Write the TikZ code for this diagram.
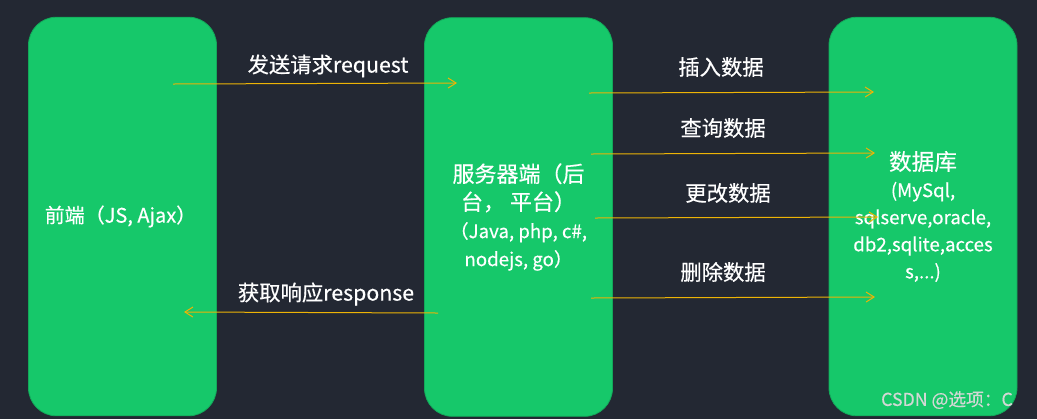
\documentclass[tikz,border=0pt]{standalone}
\usepackage{fontspec}
\setmainfont{Noto Sans CJK SC}[FakeBold=0.4]
\usetikzlibrary{arrows.meta}
\definecolor{bg}{HTML}{232833}
\definecolor{boxgreen}{HTML}{16C86A}
\definecolor{boxedge}{HTML}{13A95A}
\definecolor{arrowgold}{HTML}{EDB406}
\definecolor{wmgrey}{HTML}{D2D8D5}
\begin{document}
\begin{tikzpicture}[x=0.75pt,y=-0.75pt,
    blk/.style={draw=boxedge,fill=boxgreen,line width=0.6pt,rounded corners=21pt,
        minimum width=141pt,minimum height=299pt,text=white,align=center,
        font=\fontsize{16.5}{21}\selectfont},
    lbl/.style={text=white,font=\fontsize{16}{18}\selectfont,inner sep=0pt},
    flow/.style={arrowgold,line width=0.75pt,-{Straight Barb[length=6pt,width=7.5pt]}}]
    \fill[bg](0,0)rectangle(1037,419);
    \node[blk,font=\fontsize{15}{21}\selectfont](fe)at(122.5,216.5){前端（JS, Ajax）\hspace{3pt}};
    \node[blk](be)at(518.5,217){服务器端（后\\台，\ 平台）\\
        \fontsize{14}{21}\selectfont（Java, php, c\#,\\
        \fontsize{14}{21}\selectfont nodejs, go）};
    \node[blk,font=\fontsize{14}{20.3}\selectfont](db)at(923,216.5){\fontsize{17}{20.3}\selectfont 数据库\\
        (MySql,\\sqlserve,oracle,\\db2,sqlite,acces\\s,...)};
    \coordinate(rqa)at(173,84);   \coordinate(rqb)at(457,83);
    \coordinate(ina)at(589,93);   \coordinate(inb)at(874,92);
    \coordinate(qua)at(591,154);  \coordinate(qub)at(875,153);
    \coordinate(upa)at(595,218);  \coordinate(upb)at(878,217);
    \coordinate(dla)at(591,298);  \coordinate(dlb)at(875,297);
    \coordinate(rsa)at(438,313);  \coordinate(rsb)at(184,312);
    \draw[flow](rqa)--(rqb);
    \draw[flow](ina)--(inb);
    \draw[flow](qua)--(qub);
    \draw[flow](upa)--(upb);
    \draw[flow](dla)--(dlb);
    \draw[flow](rsa)--(rsb);
    \node[lbl](rq)at(328,66){发送请求request};
    \node[lbl](in)at(721,67){插入数据};
    \node[lbl](qu)at(723,128){查询数据};
    \node[lbl](up)at(728,193){更改数据};
    \node[lbl](dl)at(723,272){删除数据};
    \node[lbl](rs)at(326,294){获取响应response};
    \node[text=wmgrey,font=\fontsize{13.3}{15}\selectfont,inner sep=0pt](wm)at(947,400){CSDN @选项：C};
\end{tikzpicture}
\end{document}
